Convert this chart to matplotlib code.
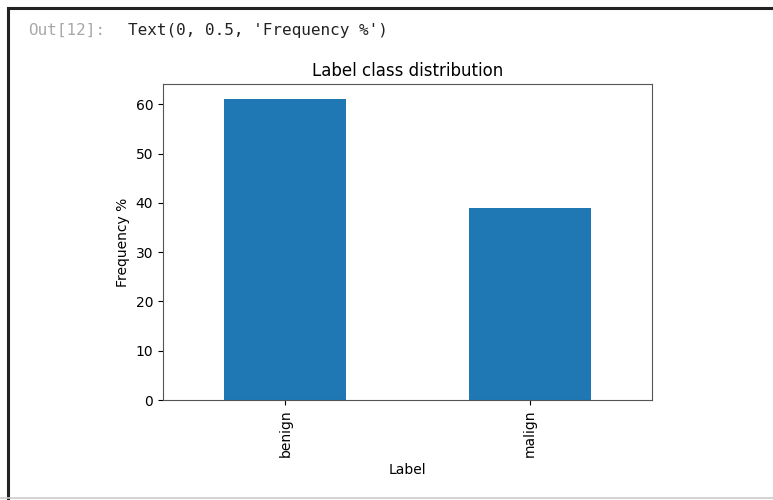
#label class distribution bar chart (notebook output screenshot)
import matplotlib
matplotlib.use("Agg")
from matplotlib import pyplot as plt
from matplotlib.patches import Rectangle

labels = ["benign", "malign"]
frequency = [61.1, 38.9]

fig = plt.figure(figsize=(7.73, 5.0), dpi=100)

# notebook cell frame
fig.patches.append(Rectangle((0.0105, -0.01), 1.1, 0.995, transform=fig.transFigure,
                             fill=False, edgecolor="#222222", linewidth=2.2))
fig.patches.append(Rectangle((0.0, 0.004), 1.0, 0.0, transform=fig.transFigure,
                             fill=False, edgecolor="#cccccc", linewidth=1.2))

fig.text(0.036, 0.94, "Out[12]:", family="DejaVu Sans Mono", fontsize=11.5,
         color="#a8a8a8", va="center")
fig.text(0.165, 0.94, "Text(0, 0.5, 'Frequency %')", family="DejaVu Sans Mono",
         fontsize=11.5, color="#222222", va="center")

ax = fig.add_axes([0.2109, 0.2, 0.6326, 0.632])
ax.bar(range(len(labels)), frequency, width=0.5, color="#1f77b4")
ax.set_xlim(-0.5, len(labels) - 0.5)
ax.set_ylim(0, max(frequency) * 1.05)
ax.set_xticks(range(len(labels)))
ax.set_xticklabels(labels, rotation=90)
for side in ax.spines:
    ax.spines[side].set_color("#555555")
ax.set_title("Label class distribution")
ax.set_xlabel("Label")
ax.set_ylabel("Frequency %")

fig.savefig("out.png", dpi=100)
